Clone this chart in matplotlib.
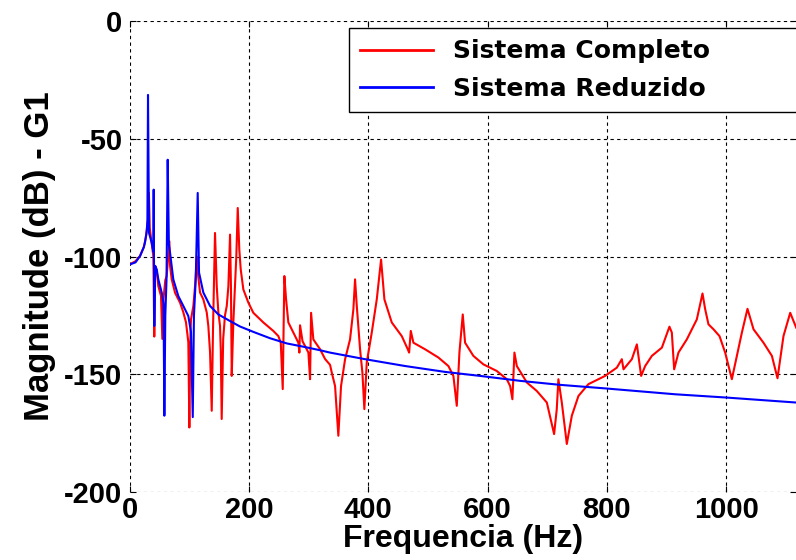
import numpy as np
import matplotlib
matplotlib.use('Agg')
import matplotlib.pyplot as plt

plt.rcParams['font.family'] = ['Liberation Sans', 'DejaVu Sans']
plt.rcParams['axes.unicode_minus'] = False

# Sistema Completo (red)
freq_completo = [0, 10, 17.6, 24, 28, 31, 32.5, 34, 37, 40, 41.5, 43, 45.6, 48.3, 52.8, 55, 57, 60,
                 62.3, 66.8, 68, 70.7, 76.3, 84.7, 90.2, 94.7, 98.6, 100.3, 102, 103, 107, 109.8,
                 113, 115, 118.2, 123.7, 129.4, 132.1, 135, 137.8, 140, 143.3, 146.2, 148.9, 151.7,
                 153, 154.5, 157, 160, 163, 165.7, 168.5, 170, 171.3, 174, 176.9, 179, 181.4, 184,
                 186.4, 190.8, 199.2, 207.5, 224.3, 241, 249.5, 253.5, 256.8, 259.5, 262.4, 266.2,
                 277.4, 283, 284.7, 285.8, 290, 294.2, 299.8, 302.6, 304.3, 308.1, 319.4, 327.7,
                 336.1, 339, 344.5, 350, 354.5, 361.3, 369.6, 375.2, 378, 380.9, 386.4, 390.3,
                 393.6, 397.6, 406, 414.4, 421.6, 427.2, 439.5, 456.3, 466.4, 468.6, 471.4, 475.8,
                 495.4, 517.7, 534.4, 542.8, 548.5, 552.9, 558.5, 562.4, 576.3, 593.1, 615.5,
                 632.3, 637.9, 641.7, 645.1, 649.1, 665.9, 682.6, 699.4, 711.6, 716, 718.8, 724.5,
                 732.9, 741.3, 752.4, 769.1, 797.1, 816.7, 825.1, 827.9, 841.9, 850.3, 857.5,
                 864.2, 875.4, 892.2, 904.9, 908.9, 912.8, 920, 934, 950.8, 960.3, 964.8, 970.3,
                 978.7, 988.8, 998.3, 1009.5, 1017.9, 1026.3, 1035.7, 1045.8, 1062.5, 1076.6,
                 1086, 1096, 1107.3, 1117.3]
mag_completo = [-103.4, -102, -99.8, -96, -91, -84, -73, -88, -94, -100, -134, -104, -106, -112.6,
                -116.8, -135, -118, -110, -108.3, -93.5, -104, -109.7, -115.4, -119.6, -123.7,
                -128, -136.5, -172.6, -135, -126.7, -121, -112.6, -100, -108, -115.3, -118.2,
                -123.7, -129.5, -140.7, -165.5, -130, -90, -112.6, -123.7, -129.5, -140, -169,
                -135, -125, -121, -112.6, -90.7, -112.6, -150.7, -128, -111.2, -100, -79.4, -97,
                -105.5, -114, -119.6, -123.9, -128, -131.6, -133.8, -136.6, -156.3, -108.3,
                -118.2, -128, -133.8, -136.6, -140.8, -129.2, -136, -138, -140.8, -152.1, -123.9,
                -135.2, -139.4, -143.5, -146, -149.3, -155, -176.1, -155, -143.6, -135.2, -122.4,
                -109.7, -121, -139.4, -149.3, -164.8, -145, -132.3, -118.2, -101.3, -118.2, -128,
                -133.8, -139.4, -140.8, -131.6, -136.6, -139.4, -142.9, -146.5, -150.7, -163.4,
                -140.8, -124.6, -136.6, -142.2, -145.8, -148.6, -152.1, -155, -160.6, -140.8,
                -146.5, -153.5, -157.1, -162, -175.4, -165, -152.1, -162, -179.6, -167.6, -159.2,
                -154.2, -150.7, -147.2, -143.6, -147.9, -143.6, -137.3, -150.7, -146.5, -142.2,
                -138.7, -129.8, -132.3, -147.9, -140.8, -135.2, -126.7, -115.7, -122.4, -128.8,
                -130.9, -133.8, -140.8, -152.1, -142.2, -132.3, -122.2, -130.9, -136.6, -142.2,
                -151.7, -133.8, -123.9, -130.2]

# Sistema Reduzido (blue)
freq_reduzido = [0, 10, 17.6, 24, 26, 28.8, 30, 31, 32.7, 37, 40, 40.5, 41.5, 43, 45.6, 48.3, 54,
                 57, 58.4, 60, 62, 64, 66, 67.9, 73.4, 81.8, 90.2, 98.6, 103, 106, 108, 111,
                 114.3, 116.5, 123.7, 135, 148.9, 168.5, 185, 207.5, 235.5, 263.5, 291.4, 319.4,
                 336, 394.8, 461.8, 528.9, 587.6, 654.6, 721.7, 797.1, 914.5, 1001, 1117]
mag_reduzido = [-103.4, -102.5, -99.8, -96, -94, -89.3, -85, -31.4, -90, -94, -98, -71.6, -129.5,
                -104, -105.5, -109.7, -115.3, -120, -167.6, -125, -110, -58.9, -95, -98.3,
                -109.7, -116.8, -121, -125.3, -132, -168.2, -125, -109.7, -73, -106.8, -115.3,
                -121, -124.6, -127.4, -129.7, -132, -134.7, -136.9, -138.3, -139.8, -140.8,
                -143.6, -146.5, -149, -150.7, -152.8, -154.5, -156, -158.5, -159.9, -162]

x_ticks = [0, 200, 400, 600, 800, 1000]
y_ticks = [0, -50, -100, -150, -200]

fig = plt.figure(figsize=(7.96, 5.6), dpi=100)
ax = fig.add_axes([0.1627, 0.1214, 0.8373, 0.8411])

ax.plot(freq_completo, mag_completo, color='#ff0000', lw=1.5, label='Sistema Completo')
ax.plot(freq_reduzido, mag_reduzido, color='#0000ff', lw=1.5, label='Sistema Reduzido')

ax.set_xlim(0, 1117)
ax.set_ylim(-200, 0)
ax.set_xticks(x_ticks)
ax.set_yticks(y_ticks)
ax.tick_params(direction='in', length=4, top=True, right=True, labelsize=21, pad=3)
ax.tick_params(axis='y', pad=5)
for lab in ax.get_xticklabels() + ax.get_yticklabels():
    lab.set_fontweight('bold')

for s in ax.spines.values():
    s.set_visible(False)
ax.grid(True, color='black', linestyle=(0, (3, 3)), lw=0.8)

ax.set_xlabel('Frequencia (Hz)', fontsize=23, fontweight='bold', labelpad=0)
ax.set_ylabel('Magnitude (dB) - G1', fontsize=25, fontweight='bold', labelpad=6)

# legend box: left edge near 349 px, runs past the right side of the figure
leg = ax.legend(loc='upper left', bbox_to_anchor=(0.3293, 0.885, 0.68, 0.1), mode='expand',
                prop={'family': 'DejaVu Sans', 'weight': 'bold', 'size': 18},
                handlelength=2.9, handletextpad=0.8, borderpad=0.45, labelspacing=0.55,
                fancybox=False, framealpha=1, edgecolor='black', borderaxespad=0)
leg.get_frame().set_linewidth(1.0)
for h in leg.get_lines():
    h.set_linewidth(2.0)

fig.savefig('out.png', dpi=100)
